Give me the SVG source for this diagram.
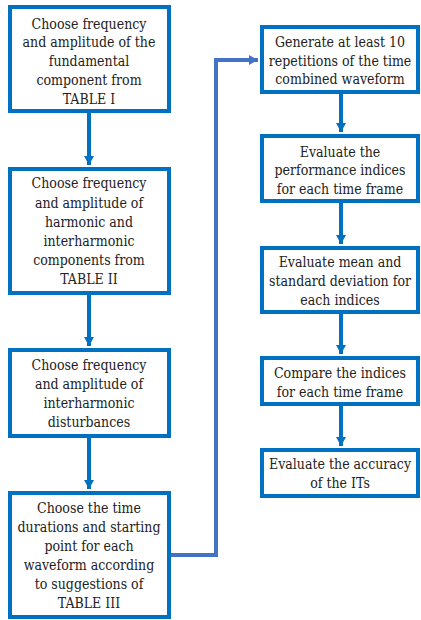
<svg xmlns="http://www.w3.org/2000/svg" width="421" height="620" viewBox="0 0 421 620">
<style>
.box{fill:#fff;stroke:#0070C0;stroke-width:4}
.t{font-family:'DejaVu Serif Condensed','DejaVu Serif',serif;font-stretch:condensed;font-size:14px;fill:#222;text-anchor:middle}
.c{fill:none;stroke:#0070C0;stroke-width:4}
.c2{fill:none;stroke:#4472C4;stroke-width:4}
</style>
<defs>
<marker id="ah" markerUnits="userSpaceOnUse" markerWidth="12" markerHeight="12" viewBox="0 0 12 12" refX="10" refY="6" orient="auto">
<path d="M1,1 L10,6 L1,11 Z" fill="#0070C0"/>
</marker>
<marker id="ah2" markerUnits="userSpaceOnUse" markerWidth="12" markerHeight="12" viewBox="0 0 12 12" refX="10" refY="6" orient="auto">
<path d="M1,1 L10,6 L1,11 Z" fill="#4472C4"/>
</marker>
</defs>
<g id="connectors">
<path class="c" d="M89,113 V165" marker-end="url(#ah)"/>
<path class="c" d="M89,295 V346" marker-end="url(#ah)"/>
<path class="c" d="M89,438 V489" marker-end="url(#ah)"/>
<path class="c2" d="M171,555 H216 V60 H258" marker-end="url(#ah2)"/>
<path class="c" d="M341,94 V132" marker-end="url(#ah)"/>
<path class="c" d="M341,203 V244" marker-end="url(#ah)"/>
<path class="c" d="M341,314 V354" marker-end="url(#ah)"/>
<path class="c" d="M341,406 V446" marker-end="url(#ah)"/>
</g>
<g id="n1">
<rect class="box" x="10" y="7" width="159" height="104"/>
<text class="t"><tspan x="89" y="28.5">Choose frequency</tspan><tspan x="89" y="47">and amplitude of the</tspan><tspan x="89" y="65.5">fundamental</tspan><tspan x="89" y="84.5">component from</tspan><tspan x="89" y="103.5">TABLE I</tspan></text>
</g>
<g id="n2">
<rect class="box" x="10" y="169" width="159" height="124"/>
<text class="t"><tspan x="89" y="188">Choose frequency</tspan><tspan x="89" y="207.5">and amplitude of</tspan><tspan x="89" y="226.5">harmonic and</tspan><tspan x="89" y="245.5">interharmonic</tspan><tspan x="89" y="264.5">components from</tspan><tspan x="89" y="283.5">TABLE II</tspan></text>
</g>
<g id="n3">
<rect class="box" x="10" y="350" width="159" height="86"/>
<text class="t"><tspan x="89" y="370">Choose frequency</tspan><tspan x="89" y="389">and amplitude of</tspan><tspan x="89" y="408">interharmonic</tspan><tspan x="89" y="426.5">disturbances</tspan></text>
</g>
<g id="n4">
<rect class="box" x="10" y="493" width="159" height="124"/>
<text class="t"><tspan x="89" y="513">Choose the time</tspan><tspan x="89" y="532">durations and starting</tspan><tspan x="89" y="551">point for each</tspan><tspan x="89" y="569.5">waveform according</tspan><tspan x="89" y="588.5">to suggestions of</tspan><tspan x="89" y="607.5">TABLE III</tspan></text>
</g>
<g id="n5">
<rect class="box" x="262" y="27" width="156" height="65"/>
<text class="t"><tspan x="340" y="47">Generate at least 10</tspan><tspan x="340" y="65.5">repetitions of the time</tspan><tspan x="340" y="83.5">combined waveform</tspan></text>
</g>
<g id="n6">
<rect class="box" x="262" y="136" width="156" height="65"/>
<text class="t"><tspan x="340" y="156.5">Evaluate the</tspan><tspan x="340" y="175">performance indices</tspan><tspan x="340" y="194">for each time frame</tspan></text>
</g>
<g id="n7">
<rect class="box" x="262" y="248" width="156" height="64"/>
<text class="t"><tspan x="340" y="267">Evaluate mean and</tspan><tspan x="340" y="286">standard deviation for</tspan><tspan x="340" y="305">each indices</tspan></text>
</g>
<g id="n8">
<rect class="box" x="262" y="358" width="156" height="46"/>
<text class="t"><tspan x="340" y="378">Compare the indices</tspan><tspan x="340" y="397">for each time frame</tspan></text>
</g>
<g id="n9">
<rect class="box" x="262" y="450" width="156" height="46"/>
<text class="t"><tspan x="340" y="469">Evaluate the accuracy</tspan><tspan x="340" y="488">of the ITs</tspan></text>
</g>
</svg>
